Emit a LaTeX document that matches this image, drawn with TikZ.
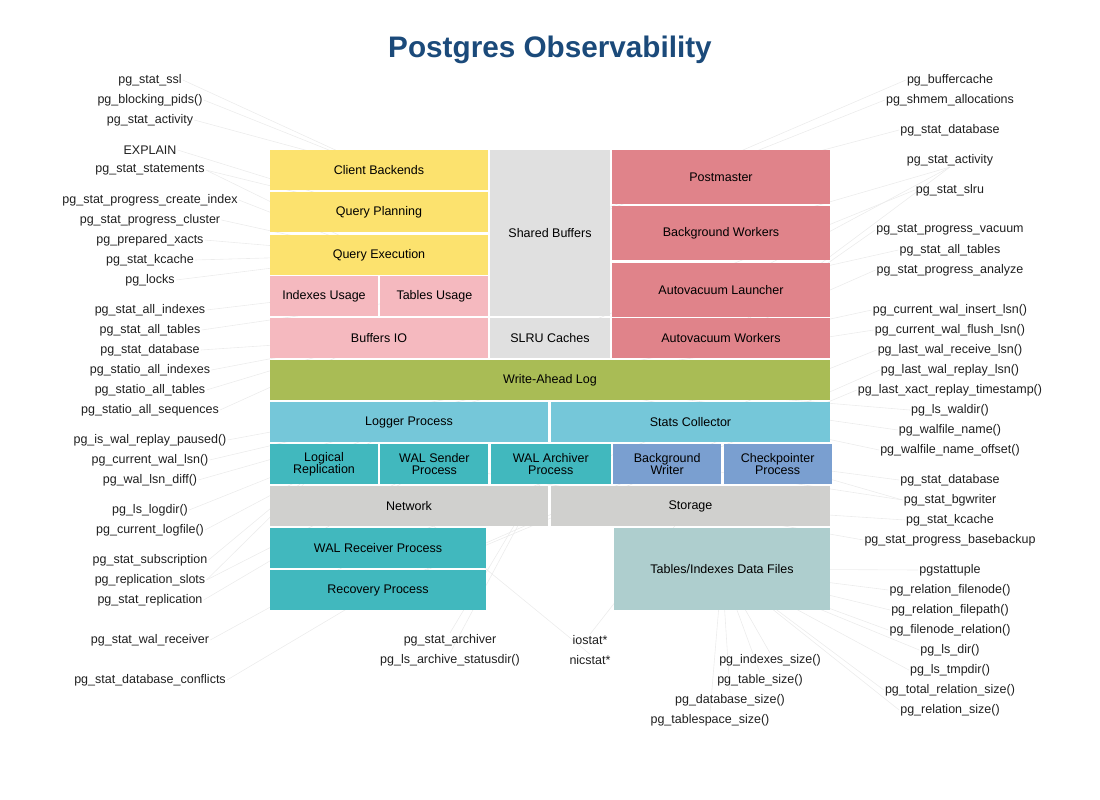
\documentclass[tikz,border=0pt]{standalone}
\usepackage{fontspec}
\setmainfont{Liberation Sans}
\usetikzlibrary{positioning,backgrounds}
\definecolor{ttl}{RGB}{27,74,122}
\definecolor{cyel}{RGB}{252,226,110}
\definecolor{cpnk}{RGB}{245,185,191}
\definecolor{cgrl}{RGB}{224,224,224}
\definecolor{cred}{RGB}{224,131,138}
\definecolor{cgrn}{RGB}{169,188,85}
\definecolor{cblu}{RGB}{117,199,217}
\definecolor{ctea}{RGB}{65,184,190}
\definecolor{cbwr}{RGB}{122,159,208}
\definecolor{cgry}{RGB}{208,208,206}
\definecolor{cdat}{RGB}{174,206,206}
\definecolor{cline}{RGB}{236,236,236}
\tikzset{
  blk/.style={inner sep=0pt, minimum height=40pt, align=center,
    font=\fontsize{12.5}{12}\selectfont},
  lbl/.style={inner sep=1pt, text=black!88, font=\fontsize{12.5}{14}\selectfont},
  conn/.style={draw=cline, line width=0.6pt},
}
\begin{document}
\begin{tikzpicture}[x=1pt,y=-1pt]
\useasboundingbox (0,0) rectangle (1100,800);
\node[font=\fontsize{29.7}{34}\selectfont\bfseries, text=ttl] (title) at (550,50) {Postgres Observability};

% blocks
\node[blk, fill=cyel, minimum width=218pt] (cb) at (379,170) {Client Backends};
\node[blk, fill=cyel, minimum width=218pt, below=2pt of cb] (qp) {Query Planning};
\node[blk, fill=cyel, minimum width=218pt, below=2pt of qp] (qe) {Query Execution};
\node[blk, fill=cpnk, minimum width=108pt] (iu) at (324,296) {Indexes Usage};
\node[blk, fill=cpnk, minimum width=108pt, right=2pt of iu] (tu) {Tables Usage};
\node[blk, fill=cpnk, minimum width=218pt] (bio) at (379,338) {Buffers IO};
\node[blk, fill=cgrl, minimum width=120pt, minimum height=166pt] (sb) at (550,233) {Shared Buffers};
\node[blk, fill=cgrl, minimum width=120pt] (slru) at (550,338) {SLRU Caches};
\node[blk, fill=cred, minimum width=218pt, minimum height=54pt] (pm) at (721,177) {Postmaster};
\node[blk, fill=cred, minimum width=218pt, minimum height=54pt, below=2pt of pm] (bw) {Background Workers};
\node[blk, fill=cred, minimum width=218pt, minimum height=54pt, below=2pt of bw] (avl) {Autovacuum Launcher};
\node[blk, fill=cred, minimum width=218pt] (avw) at (721,338) {Autovacuum Workers};
\node[blk, fill=cgrn, minimum width=560pt] (wal) at (550,380) {Write-Ahead Log};
\node[blk, fill=cblu, minimum width=278pt] (lp) at (409,422) {Logger Process};
\node[blk, fill=cblu, minimum width=279pt] (sc) at (690.5,422) {Stats Collector};
\node[blk, fill=ctea, minimum width=108pt] (lr) at (324,464) {Logical\\Replication};
\node[blk, fill=ctea, minimum width=108pt, right=2pt of lr] (ws) {WAL Sender\\Process};
\node[blk, fill=ctea, minimum width=120pt, right=2pt of ws] (wa) {WAL Archiver\\Process};
\node[blk, fill=cbwr, minimum width=108pt, right=2pt of wa] (bgw) {Background\\Writer};
\node[blk, fill=cbwr, minimum width=108pt, right=2pt of bgw] (cp) {Checkpointer\\Process};
\node[blk, fill=cgry, minimum width=278pt] (net) at (409,506) {Network};
\node[blk, fill=cgry, minimum width=279pt] (sto) at (690.5,506) {Storage};
\node[blk, fill=ctea, minimum width=216pt] (wr) at (378,548) {WAL Receiver Process};
\node[blk, fill=ctea, minimum width=216pt, below=2pt of wr] (rp) {Recovery Process};
\node[blk, fill=cdat, minimum width=216pt, minimum height=82pt] (df) at (722,569) {Tables/Indexes Data Files};

% left labels
\foreach \t/\y [count=\i] in {pg\_stat\_ssl/80, pg\_blocking\_pids()/100, pg\_stat\_activity/120,
  EXPLAIN/150, pg\_stat\_statements/170, pg\_stat\_progress\_create\_index/200,
  pg\_stat\_progress\_cluster/220, pg\_prepared\_xacts/240, pg\_stat\_kcache/260, pg\_locks/280,
  pg\_stat\_all\_indexes/310, pg\_stat\_all\_tables/330, pg\_stat\_database/350,
  pg\_statio\_all\_indexes/370, pg\_statio\_all\_tables/390, pg\_statio\_all\_sequences/410,
  pg\_is\_wal\_replay\_paused()/440, pg\_current\_wal\_lsn()/460, pg\_wal\_lsn\_diff()/480,
  pg\_ls\_logdir()/510, pg\_current\_logfile()/530, pg\_stat\_subscription/560,
  pg\_replication\_slots/580, pg\_stat\_replication/600, pg\_stat\_wal\_receiver/640,
  pg\_stat\_database\_conflicts/680}
  \node[lbl] (L\i) at (150,\y) {\t};

% right labels
\foreach \t/\y [count=\i] in {pg\_buffercache/80, pg\_shmem\_allocations/100, pg\_stat\_database/130,
  pg\_stat\_activity/160, pg\_stat\_slru/190, pg\_stat\_progress\_vacuum/230, pg\_stat\_all\_tables/250,
  pg\_stat\_progress\_analyze/270, pg\_current\_wal\_insert\_lsn()/310, pg\_current\_wal\_flush\_lsn()/330,
  pg\_last\_wal\_receive\_lsn()/350, pg\_last\_wal\_replay\_lsn()/370,
  pg\_last\_xact\_replay\_timestamp()/390, pg\_ls\_waldir()/410, pg\_walfile\_name()/430,
  pg\_walfile\_name\_offset()/450, pg\_stat\_database/480, pg\_stat\_bgwriter/500, pg\_stat\_kcache/520,
  pg\_stat\_progress\_basebackup/540, pgstattuple/570, pg\_relation\_filenode()/590,
  pg\_relation\_filepath()/610, pg\_filenode\_relation()/630, pg\_ls\_dir()/650, pg\_ls\_tmpdir()/670,
  pg\_total\_relation\_size()/690, pg\_relation\_size()/710}
  \node[lbl] (R\i) at (950,\y) {\t};

% bottom labels
\foreach \t/\x/\y [count=\i] in {pg\_stat\_archiver/450/640, pg\_ls\_archive\_statusdir()/450/660,
  iostat*/590/640, nicstat*/590/660, pg\_indexes\_size()/770/660, pg\_table\_size()/760/680,
  pg\_database\_size()/730/700, pg\_tablespace\_size()/710/720}
  \node[lbl] (B\i) at (\x,\y) {\t};

% connectors
\begin{pgfonlayer}{background}
\foreach \a/\b in {1/cb,2/cb,3/cb,4/qp,5/qp,5/qe,6/qe,7/qe,8/qe,9/qe,10/qe,11/iu,12/tu,
  13/bio,14/bio,15/bio,16/bio,17/wal,18/wal,19/wal,20/lp,21/lp,22/lr,23/lr,23/ws,24/ws,25/wr,26/rp}
  \draw[conn] (L\a.east) -- (\b.center);
\foreach \a/\b in {1/sb,2/sb,3/pm,5/slru,6/avw,7/avl,8/avw,9/wal,10/wal,11/wr,12/rp,13/rp,
  14/wal,15/wal,16/wal,17/cp,18/bgw,18/cp,19/sto,20/ws,21/df,22/df,23/df,24/df,25/df,26/df,27/df,28/df}
  \draw[conn] (R\a.west) -- (\b.center);
\foreach \b in {bw,avl,avw}
  \draw[conn] (R4.south) -- (\b.center);
\foreach \a/\b in {1/wa,2/wa,3/sto,4/net,5/df,6/df,7/df,8/df}
  \draw[conn] (B\a.north) -- (\b.center);
\end{pgfonlayer}
\end{tikzpicture}
\end{document}
